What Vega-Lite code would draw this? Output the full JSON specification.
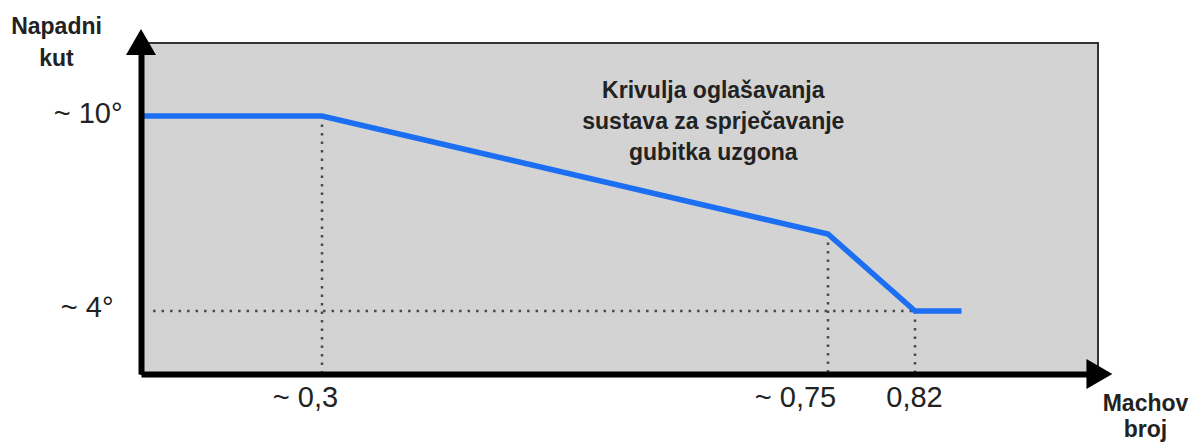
{
  "$schema": "https://vega.github.io/schema/vega-lite/v6.json",
  "width": 957,
  "height": 331,
  "autosize": {"type": "none"},
  "padding": {"left": 141, "top": 43, "right": 94, "bottom": 71},
  "background": "white",
  "config": {
    "view": {"fill": "#d3d3d3", "stroke": "#333333", "strokeWidth": 2},
    "font": "Liberation Sans"
  },
  "datasets": {
    "curve": [
      {"mach": 0.15, "angle": 10},
      {"mach": 0.3, "angle": 10},
      {"mach": 0.75, "angle": 6.37},
      {"mach": 0.82, "angle": 4},
      {"mach": 0.853, "angle": 4}
    ],
    "guides": [
      {"mach": 0.3, "mach2": 0.3, "angle": 10, "angle2": 2.06},
      {"mach": 0.75, "mach2": 0.75, "angle": 6.37, "angle2": 2.06},
      {"mach": 0.82, "mach2": 0.82, "angle": 4, "angle2": 2.06},
      {"mach": 0.16, "mach2": 0.82, "angle": 4, "angle2": 4}
    ],
    "arrows": [
      {"mach": 0.15, "angle": 12.28, "dir": "up"},
      {"mach": 0.951, "angle": 2.06, "dir": "right"}
    ],
    "notes": [
      {"mach": 0.648, "angle": 10.77, "label": "Krivulja oglašavanja\nsustava za sprječavanje\ngubitka uzgona"}
    ]
  },
  "encoding": {
    "x": {
      "field": "mach",
      "type": "quantitative",
      "scale": {"domain": [0.15, 0.3, 0.75, 0.82, 0.95], "range": [0, 181, 687, 774, 957], "nice": false, "zero": false},
      "axis": {
        "values": [0.3, 0.75, 0.82],
        "labelExpr": "datum.value == 0.3 ? '~ 0,3' : datum.value == 0.75 ? '~ 0,75' : '0,82'",
        "grid": false,
        "ticks": false,
        "tickSize": 0,
        "domainColor": "#000000",
        "domainWidth": 6,
        "zindex": 1,
        "labelFontSize": 29,
        "labelColor": "#222222",
        "labelPadding": 9,
        "labelAlign": "center",
        "labelBaseline": "top",
        "labelOffset": {"condition": [{"test": "datum.value == 0.3", "value": -17}, {"test": "datum.value == 0.75", "value": -33}], "value": -1},
        "title": ["Machov", "broj"],
        "titleFontSize": 23,
        "titleFontWeight": "bold",
        "titleColor": "#222222",
        "titleX": 1004,
        "titleY": 36,
        "titleAlign": "center",
        "titleBaseline": "alphabetic",
        "titleLineHeight": 26
      }
    },
    "y": {
      "field": "angle",
      "type": "quantitative",
      "scale": {"domain": [2.06, 12.25], "nice": false, "zero": false},
      "axis": {
        "values": [4, 10],
        "labelExpr": "datum.value == 10 ? '~ 10°' : '~ 4°'",
        "grid": false,
        "ticks": false,
        "tickSize": 0,
        "domainColor": "#000000",
        "domainWidth": 6,
        "zindex": 1,
        "labelFontSize": 29,
        "labelColor": "#222222",
        "labelPadding": {"condition": {"test": "datum.value == 4", "value": 28}, "value": 19},
        "labelOffset": -3,
        "labelAlign": "right",
        "labelBaseline": "middle",
        "title": ["Napadni", "kut"],
        "titleAngle": 0,
        "titleFontSize": 23,
        "titleFontWeight": "bold",
        "titleColor": "#222222",
        "titleX": -85,
        "titleY": -10,
        "titleAlign": "center",
        "titleBaseline": "alphabetic",
        "titleLineHeight": 32
      }
    }
  },
  "layer": [
    {
      "data": {"name": "guides"},
      "mark": {"type": "rule", "color": "#4a4a4a", "strokeWidth": 2.5, "strokeDash": [2.5, 6]},
      "encoding": {
        "x2": {"field": "mach2"},
        "y2": {"field": "angle2"}
      }
    },
    {
      "data": {"name": "curve"},
      "mark": {"type": "line", "color": "#1c6ff2", "strokeWidth": 5.5}
    },
    {
      "data": {"name": "notes"},
      "mark": {"type": "text", "align": "center", "baseline": "middle", "fontSize": 23, "fontWeight": "bold", "color": "#222222", "lineBreak": "\n", "lineHeight": 31},
      "encoding": {"text": {"field": "label"}}
    },
    {
      "data": {"name": "arrows"},
      "mark": {"type": "point", "filled": true, "color": "#000000", "opacity": 1, "size": 900, "strokeWidth": 0},
      "encoding": {
        "shape": {"field": "dir", "type": "nominal", "scale": {"domain": ["up", "right"], "range": ["triangle-up", "triangle-right"]}, "legend": null}
      }
    }
  ]
}
